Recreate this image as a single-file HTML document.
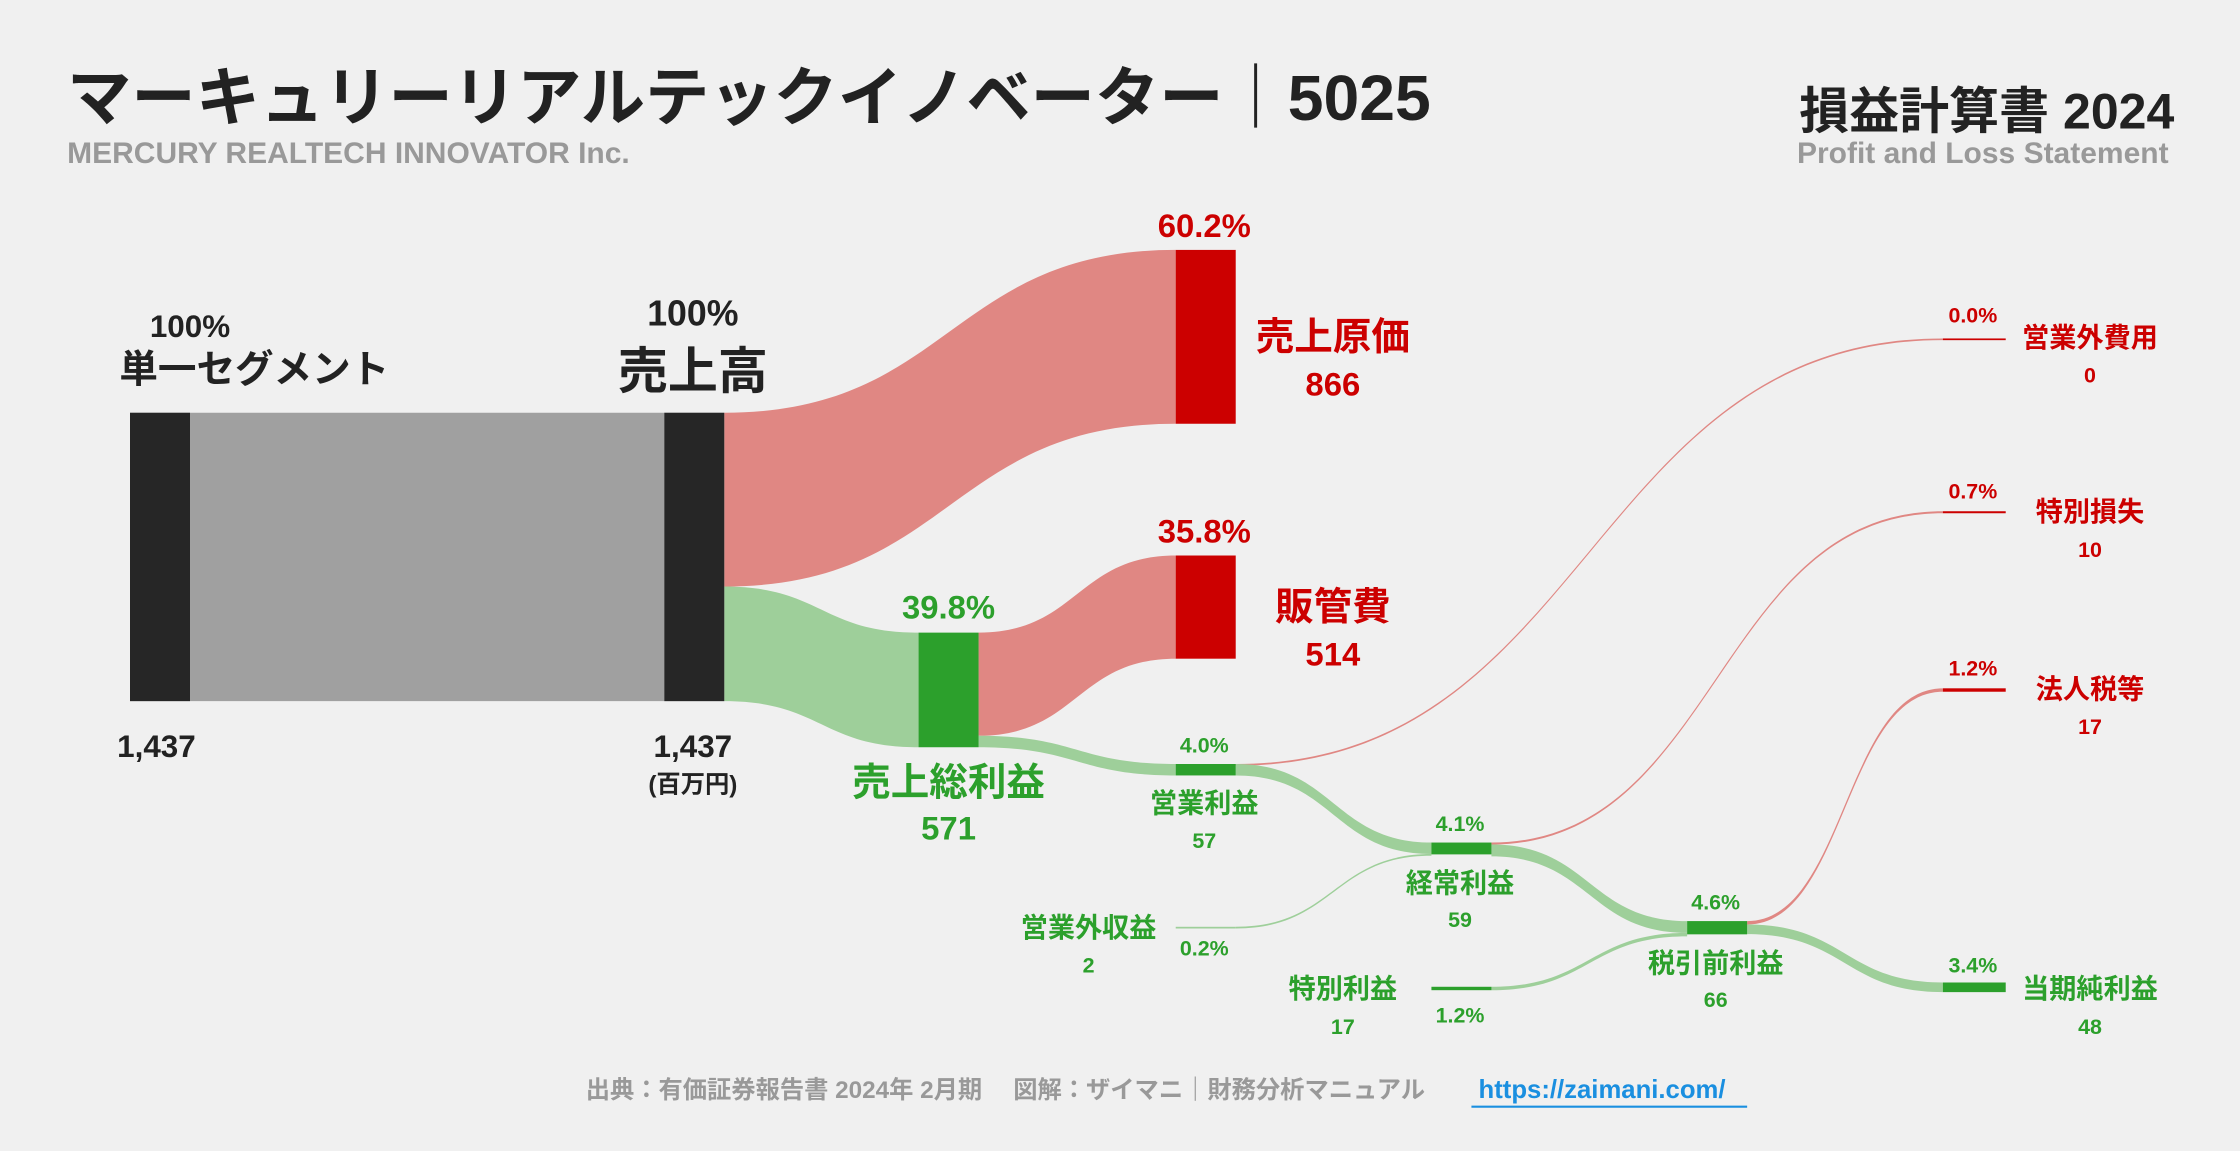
<!DOCTYPE html>
<html><head><meta charset="utf-8">
<style>
html,body{margin:0;padding:0;background:#f0f0f0;}
svg{display:block;}
text{font-family:"Liberation Sans","Noto Sans CJK JP",sans-serif;font-weight:bold;}
</style></head>
<body>
<svg id="chart" width="2240" height="1151" viewBox="0 0 1568 806" preserveAspectRatio="none" xmlns="http://www.w3.org/2000/svg">
<rect width="1568" height="806" fill="#f0f0f0"/>
<text x="47" y="84" font-size="45" fill="#222">マーキュリーリアルテックイノベーター｜5025</text>
<text x="47" y="114" font-size="21" fill="#999">MERCURY REALTECH INNOVATOR Inc.</text>
<text x="1522" y="90" font-size="35" fill="#222" text-anchor="end">損益計算書 2024</text>
<text x="1518" y="114" font-size="21" fill="#999" text-anchor="end">Profit and Loss Statement</text>
<g id="flows"></g>
<g id="nodes"></g>
<g id="labels">
<text x="133" y="236" font-size="22" fill="#222" text-anchor="middle">100%</text>
<text x="178" y="268" font-size="27" fill="#222" text-anchor="middle">単一セグメント</text>
<text x="82" y="530" font-size="22" fill="#222">1,437</text>
<text x="485" y="228" font-size="25" fill="#222" text-anchor="middle">100%</text>
<text x="485" y="272" font-size="35" fill="#222" text-anchor="middle">売上高</text>
<text x="485" y="530" font-size="22" fill="#222" text-anchor="middle">1,437</text>
<text x="485" y="555" font-size="17" fill="#222" text-anchor="middle">(百万円)</text>
<text x="843" y="166" font-size="23" fill="#cc0000" text-anchor="middle">60.2%</text>
<text x="933" y="245" font-size="27" fill="#cc0000" text-anchor="middle">売上原価</text>
<text x="933" y="277" font-size="23" fill="#cc0000" text-anchor="middle">866</text>
<text x="843" y="380" font-size="23" fill="#cc0000" text-anchor="middle">35.8%</text>
<text x="933" y="434" font-size="27" fill="#cc0000" text-anchor="middle">販管費</text>
<text x="933" y="466" font-size="23" fill="#cc0000" text-anchor="middle">514</text>
<text x="664" y="433" font-size="23" fill="#2ca02c" text-anchor="middle">39.8%</text>
<text x="664" y="557" font-size="27" fill="#2ca02c" text-anchor="middle">売上総利益</text>
<text x="664" y="588" font-size="23" fill="#2ca02c" text-anchor="middle">571</text>
<text x="843" y="527" font-size="15" fill="#2ca02c" text-anchor="middle">4.0%</text>
<text x="843" y="569" font-size="19" fill="#2ca02c" text-anchor="middle">営業利益</text>
<text x="843" y="594" font-size="15" fill="#2ca02c" text-anchor="middle">57</text>
<text x="1022" y="582" font-size="15" fill="#2ca02c" text-anchor="middle">4.1%</text>
<text x="1022" y="625" font-size="19" fill="#2ca02c" text-anchor="middle">経常利益</text>
<text x="1022" y="649" font-size="15" fill="#2ca02c" text-anchor="middle">59</text>
<text x="762" y="656" font-size="19" fill="#2ca02c" text-anchor="middle">営業外収益</text>
<text x="762" y="681" font-size="15" fill="#2ca02c" text-anchor="middle">2</text>
<text x="843" y="669" font-size="15" fill="#2ca02c" text-anchor="middle">0.2%</text>
<text x="940" y="699" font-size="19" fill="#2ca02c" text-anchor="middle">特別利益</text>
<text x="940" y="724" font-size="15" fill="#2ca02c" text-anchor="middle">17</text>
<text x="1022" y="716" font-size="15" fill="#2ca02c" text-anchor="middle">1.2%</text>
<text x="1201" y="637" font-size="15" fill="#2ca02c" text-anchor="middle">4.6%</text>
<text x="1201" y="681" font-size="19" fill="#2ca02c" text-anchor="middle">税引前利益</text>
<text x="1201" y="705" font-size="15" fill="#2ca02c" text-anchor="middle">66</text>
<text x="1381" y="681" font-size="15" fill="#2ca02c" text-anchor="middle">3.4%</text>
<text x="1463" y="699" font-size="19" fill="#2ca02c" text-anchor="middle">当期純利益</text>
<text x="1463" y="724" font-size="15" fill="#2ca02c" text-anchor="middle">48</text>
<text x="1381" y="226" font-size="15" fill="#cc0000" text-anchor="middle">0.0%</text>
<text x="1463" y="243" font-size="19" fill="#cc0000" text-anchor="middle">営業外費用</text>
<text x="1463" y="268" font-size="15" fill="#cc0000" text-anchor="middle">0</text>
<text x="1381" y="349" font-size="15" fill="#cc0000" text-anchor="middle">0.7%</text>
<text x="1463" y="365" font-size="19" fill="#cc0000" text-anchor="middle">特別損失</text>
<text x="1463" y="390" font-size="15" fill="#cc0000" text-anchor="middle">10</text>
<text x="1381" y="473" font-size="15" fill="#cc0000" text-anchor="middle">1.2%</text>
<text x="1463" y="489" font-size="19" fill="#cc0000" text-anchor="middle">法人税等</text>
<text x="1463" y="514" font-size="15" fill="#cc0000" text-anchor="middle">17</text>
</g>
<text x="410" y="769" font-size="17" fill="#999">出典：有価証券報告書 2024年 2月期　 図解：ザイマニ｜財務分析マニュアル</text>
<text x="1035" y="769" font-size="18" fill="#1a8fe0">https://zaimani.com/</text>
<line x1="1030" y1="775" x2="1223" y2="775" stroke="#1a8fe0" stroke-width="1.5"/>
</svg>
<script>
// data
const nodeNames = ["seg","sales","cogs","gp","sga","op","nonopExp","ord","nonopInc","pretax","spGain","spLoss","tax","net"];
const nodeValues = [1437,1437,866,571,514,57,0,59,2,66,17,10,17,48];
const flowSources = ["seg","sales","sales","gp","gp","op","op","nonopInc","ord","ord","spGain","pretax","pretax"];
const flowTargets = ["sales","cogs","gp","sga","op","nonopExp","ord","ord","spLoss","pretax","pretax","tax","net"];
const flowValues = [1437,866,571,514,57,0,57,2,10,59,17,17,48];

// layout (positions, not data)
const layout = {
  seg:{x:91,y:289,c:"#262626"}, sales:{x:465,y:289,c:"#262626"},
  cogs:{x:823,y:175,c:"#cc0000"}, gp:{x:643,y:443,c:"#2ca02c"},
  sga:{x:823,y:389,c:"#cc0000"}, op:{x:823,y:535,c:"#2ca02c"},
  nonopExp:{x:1360,y:237,c:"#cc0000",w:44}, ord:{x:1002,y:590,c:"#2ca02c"},
  nonopInc:{x:823,y:649,c:"#9ecf9a"}, pretax:{x:1181,y:645,c:"#2ca02c"},
  spGain:{x:1002,y:691,c:"#2ca02c"}, spLoss:{x:1360,y:358,c:"#cc0000",w:44},
  tax:{x:1360,y:482,c:"#cc0000",w:44}, net:{x:1360,y:688,c:"#2ca02c",w:44}
};
const k = 202/1437;
const hOf = v => Math.max(v*k, 1.2);
const NS="http://www.w3.org/2000/svg";
const nodes={};
nodeNames.forEach((n,i)=>{
  const L=layout[n];
  nodes[n]={x:L.x,y:L.y,w:L.w||42,h:hOf(nodeValues[i]),c:L.c,outOff:0,inOff:0};
});
const fg=document.getElementById("flows");
flowValues.forEach((v,i)=>{
  const s=nodes[flowSources[i]], t=nodes[flowTargets[i]];
  const h=hOf(v);
  const x0=s.x+s.w, x1=t.x;
  const y0=s.y+s.outOff, y1=t.y+t.inOff;
  s.outOff+=v*k; t.inOff+=v*k;
  const mx=(x0+x1)/2;
  const d=`M${x0},${y0} C${mx},${y0} ${mx},${y1} ${x1},${y1} L${x1},${y1+h} C${mx},${y1+h} ${mx},${y0+h} ${x0},${y0+h} Z`;
  const p=document.createElementNS(NS,"path");
  p.setAttribute("d",d);
  let col;
  if(flowSources[i]==="seg") col="#a0a0a0";
  else if(t.c==="#cc0000") col="#e08783";
  else col="#9ecf9a";
  p.setAttribute("fill",col);
  
  
  fg.appendChild(p);
});
const ng=document.getElementById("nodes");
nodeNames.forEach(n=>{
  const N=nodes[n];
  const r=document.createElementNS(NS,"rect");
  r.setAttribute("x",N.x);r.setAttribute("y",N.y);
  r.setAttribute("width",N.w);r.setAttribute("height",N.h);
  r.setAttribute("fill",N.c);
  
  
  ng.appendChild(r);
});
</script>
</body></html>
